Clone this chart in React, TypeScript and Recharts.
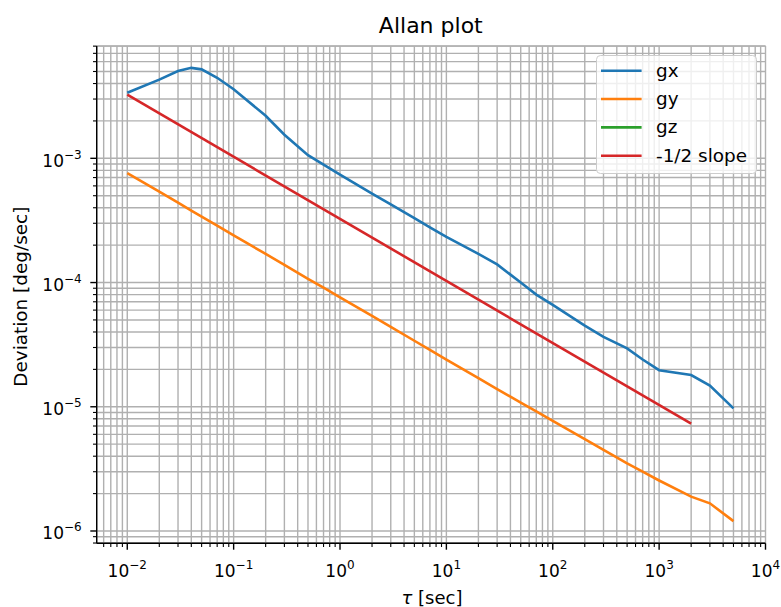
import React from 'react';
import { LineChart, Line, XAxis, YAxis, CartesianGrid, Legend } from 'recharts';

// averaging times (sec)
const tau = [
  0.01, 0.02, 0.03, 0.04, 0.05, 0.07, 0.1, 0.2, 0.3, 0.5, 0.7, 1, 2, 3, 5, 7,
  10, 20, 30, 50, 70, 100, 200, 300, 500, 700, 1000, 2000, 3000, 5000,
];

// allan deviation per gyro axis (deg/sec)
const gx = [
  3.37e-3, 4.3e-3, 5.05e-3, 5.35e-3, 5.2e-3, 4.45e-3, 3.6e-3, 2.2e-3, 1.55e-3, 1.06e-3,
  8.9e-4, 7.4e-4, 5.2e-4, 4.25e-4, 3.3e-4, 2.78e-4, 2.33e-4, 1.7e-4, 1.4e-4, 1.0e-4,
  8.0e-5, 6.6e-5, 4.5e-5, 3.65e-5, 2.95e-5, 2.4e-5, 1.97e-5, 1.8e-5, 1.48e-5, 9.7e-6,
];
const gy = [
  7.6e-4, 5.4e-4, 4.4e-4, 3.8e-4, 3.4e-4, 2.87e-4, 2.4e-4, 1.7e-4, 1.39e-4, 1.07e-4,
  9.1e-5, 7.6e-5, 5.4e-5, 4.4e-5, 3.4e-5, 2.87e-5, 2.4e-5, 1.7e-5, 1.39e-5, 1.08e-5,
  9.2e-6, 7.7e-6, 5.5e-6, 4.5e-6, 3.5e-6, 3.0e-6, 2.55e-6, 1.89e-6, 1.67e-6, 1.2e-6,
];
const gz: number[] = [];

// reference line
const slopeTau = [0.01, 2000];
const slopeDev = [3.25e-3, 7.3e-6];

const mantissas = [1, 2, 3, 4, 5, 6, 7, 8, 9];
const xDecades = [-3, -2, -1, 0, 1, 2, 3, 4];
const yDecades = [-7, -6, -5, -4, -3];

const X_DOMAIN: [number, number] = [5.16e-3, 1e4];
const Y_DOMAIN: [number, number] = [7.96e-7, 8.02e-3];

const FONT = '"DejaVu Sans", sans-serif';

const logTicks = (decades: number[], dom: [number, number]) =>
  decades
    .flatMap((d) => mantissas.map((m) => m * Math.pow(10, d)))
    .filter((v) => v >= dom[0] * 0.999 && v <= dom[1] * 1.001);

const xTicks = logTicks(xDecades, X_DOMAIN);
const yTicks = logTicks(yDecades, Y_DOMAIN);

const toPoints = (xs: number[], ys: number[]) => ys.map((y, i) => ({ x: xs[i], y }));

const series = [
  { name: 'gx', color: '#1f77b4', data: toPoints(tau, gx) },
  { name: 'gy', color: '#ff7f0e', data: toPoints(tau, gy) },
  { name: 'gz', color: '#2ca02c', data: toPoints(tau, gz) },
  { name: '-1/2 slope', color: '#d62728', data: toPoints(slopeTau, slopeDev) },
];

const expOf = (v: number) => Math.round(Math.log10(v));
const isMajor = (v: number) => Math.abs(Math.log10(v) - expOf(v)) < 1e-6;
const expText = (e: number) => (e < 0 ? '\u2212' + Math.abs(e) : String(e));

const XTick = (props: any) => {
  const { x, y, payload } = props;
  const major = isMajor(payload.value);
  return (
    <g>
      <line x1={x} y1={y} x2={x} y2={y + (major ? 6.4 : 3.7)} stroke="#000" strokeWidth={major ? 1.4 : 1.1} />
      {major && (
        <text x={x} y={y + 34} textAnchor="middle" fontSize={17} fontFamily={FONT} fill="#000">
          10<tspan dy={-8} fontSize={12}>{expText(expOf(payload.value))}</tspan>
        </text>
      )}
    </g>
  );
};

const YTick = (props: any) => {
  const { x, y, payload } = props;
  const major = isMajor(payload.value);
  return (
    <g>
      <line x1={x} y1={y} x2={x - (major ? 6.4 : 3.7)} y2={y} stroke="#000" strokeWidth={major ? 1.4 : 1.1} />
      {major && (
        <text x={x - 15} y={y + 8.4} textAnchor="end" fontSize={17} fontFamily={FONT} fill="#000">
          10<tspan dy={-8} fontSize={12}>{expText(expOf(payload.value))}</tspan>
        </text>
      )}
    </g>
  );
};

const renderLegend = () => (
  <svg width={162} height={120} style={{ display: 'block' }}>
    <rect x={0.5} y={0.5} width={160} height={118} rx={4} fill="#fff" fillOpacity={0.8} stroke="#cccccc" />
    {series.map((s, i) => {
      const ly = 15.7 + i * 28.35;
      return (
        <g key={s.name}>
          <line x1={5} x2={45.6} y1={ly} y2={ly} stroke={s.color} strokeWidth={2.6} />
          <text x={60} y={ly + 6} fontSize={18.4} fontFamily={FONT} fill="#000">
            {s.name}
          </text>
        </g>
      );
    })}
  </svg>
);

export default function App() {
  return (
    <div style={{ position: 'absolute', left: 0, top: 0, width: 781, height: 607, background: '#fff' }}>
      <LineChart width={781} height={607} margin={{ top: 46, right: 15.5, bottom: 23.7, left: 0 }}>
        <CartesianGrid stroke="#b0b0b0" strokeWidth={1.4} />
        <XAxis
          dataKey="x"
          type="number"
          scale="log"
          domain={X_DOMAIN}
          allowDataOverflow
          ticks={xTicks}
          interval={0}
          tickSize={0}
          tickMargin={0}
          tickLine={false}
          tick={<XTick />}
          height={40}
          axisLine={{ stroke: '#000', strokeWidth: 1.4 }}
        />
        <XAxis
          xAxisId="top"
          orientation="top"
          type="number"
          scale="log"
          domain={X_DOMAIN}
          allowDataOverflow
          height={0}
          tick={false}
          tickLine={false}
          axisLine={{ stroke: '#000', strokeWidth: 1.4 }}
        />
        <YAxis
          type="number"
          scale="log"
          domain={Y_DOMAIN}
          allowDataOverflow
          ticks={yTicks}
          interval={0}
          tickSize={0}
          tickMargin={0}
          tickLine={false}
          tick={<YTick />}
          width={96.7}
          axisLine={{ stroke: '#000', strokeWidth: 1.4 }}
        />
        <YAxis
          yAxisId="right"
          orientation="right"
          type="number"
          scale="log"
          domain={Y_DOMAIN}
          allowDataOverflow
          width={0}
          tick={false}
          tickLine={false}
          axisLine={{ stroke: '#000', strokeWidth: 1.4 }}
        />
        {series.map((s) => (
          <Line
            key={s.name}
            data={s.data}
            dataKey="y"
            name={s.name}
            type="linear"
            stroke={s.color}
            strokeWidth={2.6}
            dot={false}
            activeDot={false}
            isAnimationActive={false}
          />
        ))}
        <Legend
          layout="horizontal"
          verticalAlign="middle"
          align="center"
          content={renderLegend}
          wrapperStyle={{ left: 596, top: 55, width: 162, height: 120, margin: 0 }}
        />
      </LineChart>
      <svg
        width={781}
        height={607}
        style={{ position: 'absolute', left: 0, top: 0, pointerEvents: 'none' }}
      >
        <text x={430.8} y={33.3} textAnchor="middle" fontSize={22} fontFamily={FONT} fill="#000">
          Allan plot
        </text>
        <text x={432} y={604} textAnchor="middle" fontSize={18} fontFamily={FONT} fill="#000">
          <tspan fontStyle="italic">τ</tspan> [sec]
        </text>
        <text
          x={27}
          y={296.7}
          textAnchor="middle"
          fontSize={18.4}
          fontFamily={FONT}
          fill="#000"
          transform="rotate(-90 27 296.7)"
        >
          Deviation [deg/sec]
        </text>
      </svg>
    </div>
  );
}
